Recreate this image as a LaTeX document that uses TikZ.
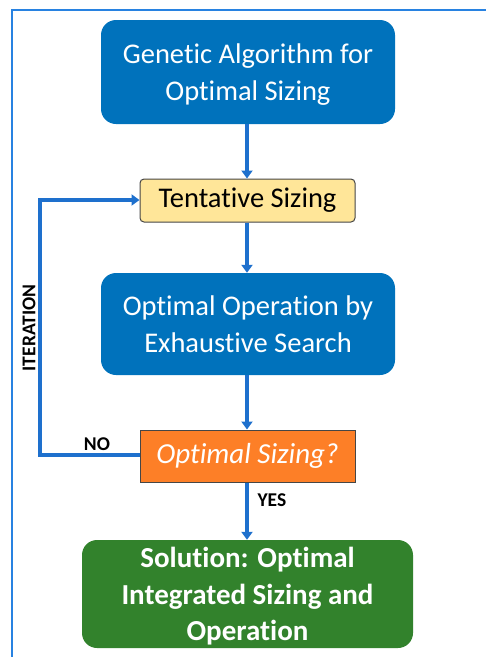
\documentclass[tikz,border=0pt]{standalone}
\usepackage{fontspec}
\setmainfont{Carlito}[Ligatures=NoCommon]
\usetikzlibrary{arrows.meta}
\definecolor{boxblue}{RGB}{0,114,188}
\definecolor{linkblue}{RGB}{30,112,205}
\definecolor{framblue}{RGB}{40,130,225}
\definecolor{tentfill}{RGB}{255,230,153}
\definecolor{decfill}{RGB}{253,127,39}
\definecolor{solgreen}{RGB}{50,130,44}
\definecolor{edgegray}{RGB}{70,70,70}
\tikzset{
  x=1pt, y=-1pt,
  bigbox/.style={rounded corners=15pt, fill=boxblue, text=white, align=center,
    font=\fontsize{28.5}{37}\selectfont, inner sep=0pt, text depth=0pt},
  smallbox/.style={draw=edgegray, line width=1pt, align=center, inner sep=0pt},
  link/.style={draw=linkblue, line width=3.2pt, -{Triangle[width=11pt,length=8pt]}},
  tag/.style={font=\fontsize{19.5}{19.5}\selectfont\bfseries, text=black, inner sep=0pt}
}
\begin{document}
\begin{tikzpicture}
\useasboundingbox (0,0) rectangle (486,657);
% outer frame (left and top edges only)
\draw[framblue, line width=1.8pt] (12,657) -- (12,10) -- (486,10);

% process boxes
\node[bigbox, minimum width=294pt, minimum height=104pt] (ga) at (248,72)
  {Genetic Algorithm for\\Optimal Sizing};
\node[smallbox, rounded corners=4pt, fill=tentfill, minimum width=215pt, minimum height=43pt,
  font=\fontsize{28.5}{28.5}\selectfont] (tent) at (247.5,200.5) {Tentative Sizing};
\node[bigbox, minimum width=294pt, minimum height=102pt] (op) at (248,324)
  {Optimal Operation by\\Exhaustive Search};
\node[smallbox, fill=decfill, text=white, minimum width=215pt, minimum height=52pt,
  font=\fontsize{29}{29}\selectfont\itshape] (dec) at (247.5,456) {Optimal Sizing?};
\node[bigbox, fill=solgreen, minimum width=331pt, minimum height=108pt,
  font=\fontsize{29}{36.5}\selectfont\bfseries] (sol) at (247.5,594)
  {Solution: Optimal\\Integrated Sizing and\\Operation};

% connectors
\draw[link] (ga.south -| 247,0) -- (tent.north -| 247,0);
\draw[link] (tent.south -| 247,0) -- (op.north -| 247,0);
\draw[link] (op.south -| 247,0) -- (dec.north -| 247,0);
\draw[link] (dec.south -| 247,0) -- node[tag, anchor=west, xshift=9pt, pos=0.3] {YES} (sol.north -| 247,0);
\coordinate (lb) at (40,455);
\coordinate (lt) at (40,200);
\draw[link] (dec.west |- 0,455) -- (lb) -- (lt) -- (tent.west |- 0,200);
\node[tag, anchor=south] (no) at (97,451) {NO};
\node[tag, rotate=90] (iter) at (29,328) {ITERATION};
\end{tikzpicture}
\end{document}
